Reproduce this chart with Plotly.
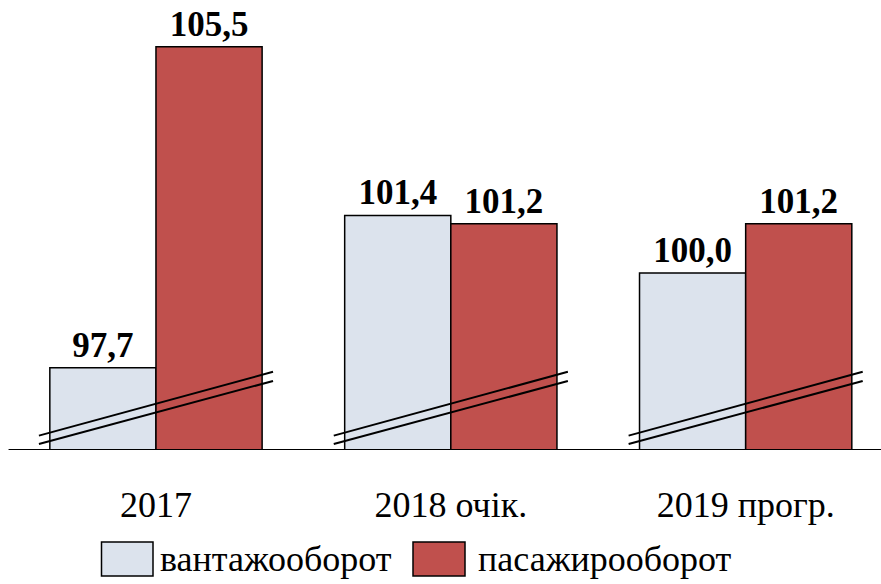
import plotly.graph_objects as go

categories = ["2017", "2018 очік.", "2019 прогр."]
series_names = ["вантажооборот", "пасажирооборот"]
freight = [97.7, 101.4, 100.0]
passenger = [105.5, 101.2, 101.2]
colors = ["#dce3ed", "#c0504d"]

y_min, y_max = 95.7, 106.635
FONT = "Liberation Serif"

fig = go.Figure()
for name, vals, col in zip(series_names, [freight, passenger], colors):
    fig.add_trace(go.Bar(
        x=list(range(len(categories))), y=vals, name=name,
        marker=dict(color=col, line=dict(color="black", width=1.5)),
        texttemplate="%{y:.1f}", textposition="outside",
        textfont=dict(family=FONT, size=35, color="black", weight="bold"),
        cliponaxis=False, showlegend=False,
    ))

shapes = []
# baseline
shapes.append(dict(type="line", xref="x", yref="y", x0=-0.5, x1=2.46, y0=y_min, y1=y_min,
                   line=dict(color="black", width=2)))
# axis break marks
for i in range(len(categories)):
    for ya, yb in [(96.05, 97.60), (95.846, 97.377)]:
        shapes.append(dict(type="line", xref="x", yref="y", x0=i - 0.397, x1=i + 0.397,
                           y0=ya, y1=yb, line=dict(color="black", width=2)))

# custom legend
annotations = []
legend_items = [(101.5 / 881, 153 / 881, 158 / 881), (413 / 881, 465 / 881, 476 / 881)]
for (sx0, sx1, tx), name, col in zip(legend_items, series_names, colors):
    shapes.append(dict(type="rect", xref="paper", yref="paper", x0=sx0, x1=sx1,
                       y0=(450 - 542) / 450, y1=(450 - 576) / 450,
                       fillcolor=col, line=dict(color="black", width=1.5)))
    annotations.append(dict(xref="paper", yref="paper", x=tx, y=(450 - 559) / 450,
                            xanchor="left", yanchor="middle", showarrow=False, text=name,
                            font=dict(family=FONT, size=36, color="black")))

fig.update_layout(
    width=881, height=584,
    margin=dict(l=0, r=0, t=0, b=134),
    paper_bgcolor="white", plot_bgcolor="white",
    barmode="group", bargap=0.28, bargroupgap=0,
    separators=", ",
    shapes=shapes, annotations=annotations,
    xaxis=dict(range=[-0.529, 2.459], tickmode="array", tickvals=list(range(len(categories))),
               ticktext=categories, showgrid=False, zeroline=False, showline=False,
               ticks="", ticklabelstandoff=30,
               tickfont=dict(family=FONT, size=36, color="black")),
    yaxis=dict(range=[y_min, y_max], visible=False),
)

fig.write_html("out.html", config={"displayModeBar": False},
               post_script="document.body.style.margin='0';document.body.style.overflow='hidden';")
